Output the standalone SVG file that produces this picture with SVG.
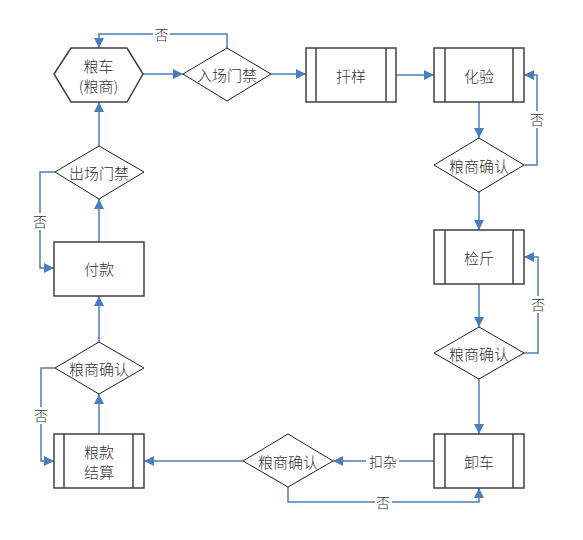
<svg xmlns="http://www.w3.org/2000/svg" width="583" height="540" viewBox="0 0 583 540">
<style>
.box{fill:#fff;stroke:#404040;stroke-width:1.5}
.bar{stroke:#404040;stroke-width:1.5;fill:none}
.dia{fill:#fff;stroke:#202020;stroke-width:1}
.t{font-family:"Noto Sans CJK SC",sans-serif;font-size:15px;fill:#333;text-anchor:middle;dominant-baseline:central;font-weight:300}
.c{fill:none;stroke:#4a7ebb;stroke-width:1.5}
.lbl{font-family:"Noto Sans CJK SC",sans-serif;font-size:14px;fill:#333;text-anchor:middle;dominant-baseline:central;font-weight:300}
.lb{fill:#fff}
</style>
<defs>
<marker id="ah" viewBox="0 0 10 10" refX="10" refY="5" markerWidth="10" markerHeight="10" markerUnits="userSpaceOnUse" orient="auto">
<path d="M0,0 L10,5 L0,10 z" fill="#4a7ebb"/>
</marker>
</defs>
<rect width="583" height="540" fill="#fff"/>
<g id="connectors">
<path class="c" d="M143,74 H183" marker-end="url(#ah)"/>
<path class="c" d="M227,48 V34 H99 V48" marker-end="url(#ah)"/>
<path class="c" d="M271,74 H306" marker-end="url(#ah)"/>
<path class="c" d="M396,75 H434" marker-end="url(#ah)"/>
<path class="c" d="M479,102 V138" marker-end="url(#ah)"/>
<path class="c" d="M524,165 H537 V75 H524" marker-end="url(#ah)"/>
<path class="c" d="M479,192 V230" marker-end="url(#ah)"/>
<path class="c" d="M479,284 V327" marker-end="url(#ah)"/>
<path class="c" d="M524,353 H538 V257 H524" marker-end="url(#ah)"/>
<path class="c" d="M479,379 V434" marker-end="url(#ah)"/>
<path class="c" d="M434,461 H333" marker-end="url(#ah)"/>
<path class="c" d="M288,487 V502 H479 V488" marker-end="url(#ah)"/>
<path class="c" d="M243,461 H144" marker-end="url(#ah)"/>
<path class="c" d="M99,434 V394" marker-end="url(#ah)"/>
<path class="c" d="M55,368 H41 V461 H54" marker-end="url(#ah)"/>
<path class="c" d="M99,342 V296" marker-end="url(#ah)"/>
<path class="c" d="M99,242 V199" marker-end="url(#ah)"/>
<path class="c" d="M55,172 H40 V268 H54" marker-end="url(#ah)"/>
<path class="c" d="M99,146 V102" marker-end="url(#ah)"/>
<rect class="lb" x="153" y="26" width="17" height="16"/>
<text class="lbl" x="161.5" y="34">否</text>
<rect class="lb" x="530" y="111" width="15" height="17"/>
<text class="lbl" x="537" y="119">否</text>
<rect class="lb" x="531" y="296" width="15" height="17"/>
<text class="lbl" x="538" y="304">否</text>
<rect class="lb" x="366" y="453" width="33" height="16"/>
<text class="lbl" x="383" y="461">扣杂</text>
<rect class="lb" x="375" y="494" width="17" height="16"/>
<text class="lbl" x="383" y="502">否</text>
<rect class="lb" x="33" y="407" width="15" height="17"/>
<text class="lbl" x="41" y="415">否</text>
<rect class="lb" x="33" y="213" width="15" height="17"/>
<text class="lbl" x="40" y="221">否</text>
</g>
<g id="n-grain-truck">
<polygon class="box" points="54,74 71,48 127,48 143,74 127,102 71,102"/>
<text class="t" x="98.5" y="65">粮车</text>
<text class="t" x="98.5" y="85">(粮商)</text>
</g>
<g id="n-entry-gate">
<polygon class="dia" points="183,74 227,48 271,74 227,101"/>
<text class="t" x="227" y="74">入场门禁</text>
</g>
<g id="n-sampling">
<rect class="box" x="306" y="48" width="90" height="54"/>
<path class="bar" d="M316,48 V102 M386,48 V102"/>
<text class="t" x="351" y="75">扦样</text>
</g>
<g id="n-assay">
<rect class="box" x="434" y="48" width="90" height="54"/>
<path class="bar" d="M445,48 V102 M513,48 V102"/>
<text class="t" x="479" y="75">化验</text>
</g>
<g id="n-confirm-1">
<polygon class="dia" points="434,165 479,138 524,165 479,192"/>
<text class="t" x="479" y="165">粮商确认</text>
</g>
<g id="n-weigh">
<rect class="box" x="434" y="230" width="90" height="54"/>
<path class="bar" d="M445,230 V284 M513,230 V284"/>
<text class="t" x="479" y="257">检斤</text>
</g>
<g id="n-confirm-2">
<polygon class="dia" points="434,353 479,327 524,353 479,379"/>
<text class="t" x="479" y="353">粮商确认</text>
</g>
<g id="n-unload">
<rect class="box" x="434" y="434" width="90" height="54"/>
<path class="bar" d="M445,434 V488 M513,434 V488"/>
<text class="t" x="479" y="461">卸车</text>
</g>
<g id="n-confirm-3">
<polygon class="dia" points="243,461 288,434 333,461 288,487"/>
<text class="t" x="288" y="461">粮商确认</text>
</g>
<g id="n-settle">
<rect class="box" x="54" y="434" width="90" height="54"/>
<path class="bar" d="M64,434 V488 M133,434 V488"/>
<text class="t" x="99" y="451">粮款</text>
<text class="t" x="99" y="471">结算</text>
</g>
<g id="n-confirm-4">
<polygon class="dia" points="55,368 99,342 144,368 99,394"/>
<text class="t" x="99" y="368">粮商确认</text>
</g>
<g id="n-pay">
<rect class="box" x="54" y="242" width="90" height="54"/>
<text class="t" x="99" y="268">付款</text>
</g>
<g id="n-exit-gate">
<polygon class="dia" points="55,172 99,146 144,172 99,199"/>
<text class="t" x="99" y="172">出场门禁</text>
</g>
</svg>
